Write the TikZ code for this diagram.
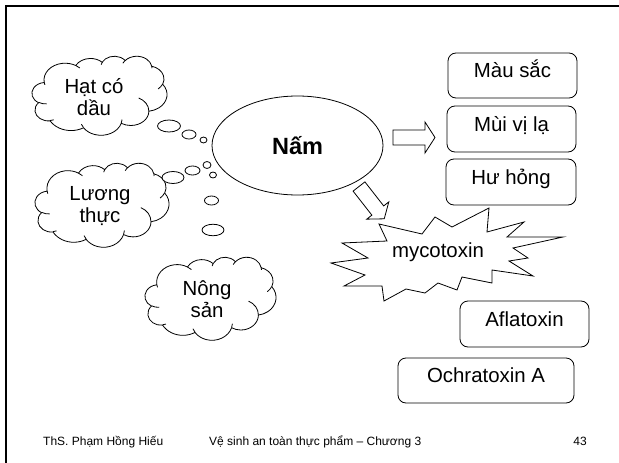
\documentclass[tikz,border=0pt]{standalone}
\usepackage{fontspec}
\setmainfont{Liberation Sans}
\usetikzlibrary{shapes.geometric}

% elliptical arc given by radii and a visual start angle / sweep (degrees, y down)
\newcommand\pptarc[4]{arc[x radius=#1, y radius=#2,
  start angle={atan2(#1*sin(#3),#2*cos(#3))},
  delta angle={mod(atan2(#1*sin(#3+#4),#2*cos(#3+#4))-atan2(#1*sin(#3),#2*cos(#3))+720,360)}]}

% cloud outline in a 432 x 432 frame, stretched to the given box
\newcommand\cloudshape[5]{% name, left, top, width, height
  \pgfmathsetmacro\cldsx{#4/432}%
  \pgfmathsetmacro\cldsy{#5/432}%
  \begin{scope}[shift={(#2,#3)}, x=\cldsx pt, y=-\cldsy pt]
    \coordinate (#1) at (216,216);
    \draw[shapeline] (39.00,143.70)
      \pptarc{67.53}{91.90}{-190.48748}{123.78053}
      \pptarc{53.33}{72.67}{-144.10238}{89.94523}
      \pptarc{43.65}{59.45}{-145.80792}{99.72302}
      \pptarc{48.57}{65.95}{-130.98607}{117.24173}
      \pptarc{53.33}{72.73}{-78.70888}{109.02692}
      \pptarc{67.75}{92.20}{-46.26725}{130.269}
      \pptarc{57.85}{78.67}{0.62502}{114.03333}
      \pptarc{67.52}{92.15}{22.4516}{115.17255}
      \pptarc{77.20}{105.43}{66.24263}{75.71102}
      \pptarc{43.60}{59.18}{-274.94208}{146.73557}
      \pptarc{43.45}{59.45}{-246.8285}{152.51885} -- cycle;
    \draw[line width=0.8pt]
      (46.93,261.77) \pptarc{43.45}{59.45}{86.742}{26.4295}
      (69.28,348.99) \pptarc{43.60}{59.18}{73.61047}{11.44747}
      (164.78,390.90) \pptarc{67.52}{92.15}{137.62415}{14.0811}
      (288.27,347.51) \pptarc{67.52}{92.15}{6.45327}{15.99835}
      (341.29,229.54) \pptarc{57.85}{78.67}{-70.29235}{70.91737}
      (417.98,153.54) \pptarc{53.33}{72.73}{30.31803}{27.7515}
      (383.24,54.26) \pptarc{48.57}{65.95}{-13.74433}{14.8589}
      (290.78,39.52) \pptarc{48.57}{65.95}{-149.18145}{18.19537}
      (221.41,47.20) \pptarc{43.65}{59.45}{-163.49427}{17.68635}
      (140.00,51.92) \pptarc{67.53}{91.90}{-66.70695}{12.31935}
      (41.27,157.89) \pptarc{67.53}{91.90}{157.65435}{11.85817};
  \end{scope}}

\newcommand\slidefont{\fontsize{20.4}{22}\selectfont}
\newcommand\footfont{\fontsize{12}{14}\selectfont}

\tikzset{
  shapeline/.style={draw=black, line width=0.8pt, fill=white},
  bubble/.style={draw=black, line width=0.8pt, fill=white, ellipse, inner sep=0pt},
  infobox/.style={draw=black, line width=0.8pt, fill=white, rounded corners=8pt,
    inner sep=0pt, text height=10pt, text depth=6pt, font=\slidefont},
  cloudtext/.style={inner sep=0pt, anchor=base, font=\slidefont},
  foottext/.style={inner sep=0pt, font=\footfont},
}

\begin{document}
\begin{tikzpicture}[x=1pt, y=-1pt]
  \useasboundingbox (0,0) rectangle (619,463);
  \fill[white] (0,0) rectangle (619,463);

  % slide frame
  \draw[line width=2pt] (6,463) -- (6,6) -- (619,6);

  % clouds with their thought bubbles
  \cloudshape{hat}{32}{56}{135}{79}
  \cloudshape{luong}{35}{163}{134}{84}
  \cloudshape{nong}{145}{257}{131}{83}

  \node[bubble, minimum width=23pt, minimum height=12pt] (hb1) at (169,126) {};
  \node[bubble, minimum width=14pt, minimum height=9pt] (hb2) at (189,134.5) {};
  \node[bubble, minimum width=7pt, minimum height=6pt] (hb3) at (203.5,140) {};

  \node[bubble, minimum width=22pt, minimum height=12pt] (lb1) at (173,177.5) {};
  \node[bubble, minimum width=15pt, minimum height=9pt] (lb2) at (192.5,170.5) {};
  \node[bubble, minimum width=8pt, minimum height=7pt] (lb3) at (207,165) {};

  \node[bubble, minimum width=7pt, minimum height=6pt] (nb1) at (213,175) {};
  \node[bubble, minimum width=14pt, minimum height=9pt] (nb2) at (211.5,200.5) {};
  \node[bubble, minimum width=22pt, minimum height=11.5pt] (nb3) at (213,230) {};

  \node[cloudtext] (hat1) at (94,93) {Hạt có};
  \node[cloudtext] (hat2) at (94,115) {dầu};
  \node[cloudtext] (luong1) at (100,200) {Lương};
  \node[cloudtext] (luong2) at (100,222) {thực};
  \node[cloudtext] (nong1) at (207,295) {Nông};
  \node[cloudtext] (nong2) at (207,317) {sản};

  % central ellipse
  \node[ellipse, draw=black, line width=0.8pt, fill=white,
        minimum width=171pt, minimum height=99pt, inner sep=0pt,
        text height=17pt, text depth=0pt,
        font=\bfseries\fontsize{23.5}{26}\selectfont] (nam) at (297.5,145.5) {Nấm};

  % block arrows
  \draw[shapeline] (393,130) -- (425,130) -- (425,122) -- (435,137.5)
    -- (425,153) -- (425,145) -- (393,145) -- cycle;
  \begin{scope}[shift={(359,186.5)}, rotate=-52]
    \draw[shapeline] (0,-7.5) -- (30.5,-7.5) -- (30.5,-14) -- (41,0)
      -- (30.5,14) -- (30.5,7.5) -- (0,7.5) -- cycle;
  \end{scope}

  % explosion
  \draw[shapeline, line join=miter] (379,224) -- (422,234) -- (435,217) -- (452,227)
    -- (489,208) -- (487,232) -- (524,222) -- (507,237) -- (563,237)
    -- (513,248) -- (528,258) -- (509,261) -- (533,276) -- (492,270)
    -- (492,283) -- (462,277) -- (457,290) -- (438,283) -- (425,293)
    -- (406,289) -- (384,301) -- (382,286) -- (344,286) -- (365,275)
    -- (331,263) -- (368,258) -- (342,243) -- (387,241) -- cycle;
  \node[cloudtext] (myco) at (438,257) {mycotoxin};

  % rounded boxes
  \node[infobox, minimum width=129pt, minimum height=45pt] (mau) at (512.5,75.5) {Màu sắc};
  \node[infobox, minimum width=129pt, minimum height=46pt] (mui) at (511.5,129) {Mùi vị lạ};
  \node[infobox, minimum width=130pt, minimum height=46pt] (hu) at (511,182) {Hư hỏng};
  \node[infobox, minimum width=129pt, minimum height=46pt] (afla) at (524.5,324) {Aflatoxin};
  \node[infobox, minimum width=176pt, minimum height=45pt] (ochra) at (486,380.5) {Ochratoxin A};

  % footer
  \node[foottext, anchor=base west] (author) at (43,445) {ThS. Phạm Hồng Hiếu};
  \node[foottext, anchor=base west] (course) at (209,445) {Vệ sinh an toàn thực phẩm – Chương 3};
  \node[foottext, anchor=base east] (page) at (587,445) {43};
\end{tikzpicture}
\end{document}
